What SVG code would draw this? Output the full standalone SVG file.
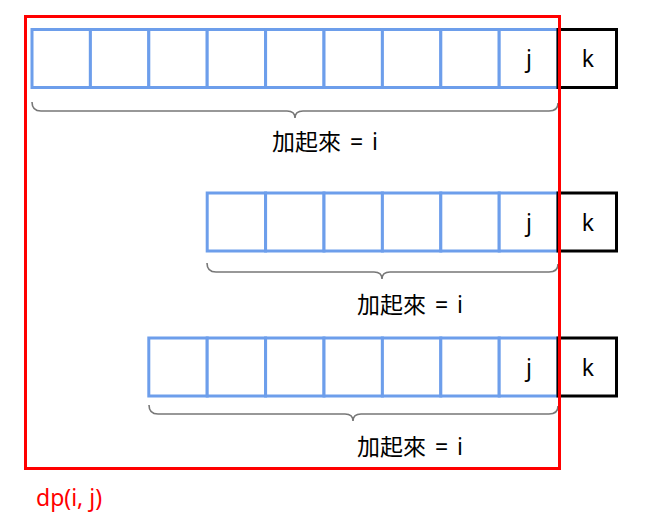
<svg xmlns="http://www.w3.org/2000/svg" width="649" height="526" viewBox="0 0 649 526">
<style>
.cell{fill:#fff;stroke:#6d9eeb;stroke-width:3}
.k{fill:#fff;stroke:#000;stroke-width:3}
.brace{fill:none;stroke:#777;stroke-width:1.6}
.t{font-family:"Noto Sans","Noto Sans CJK TC",sans-serif;font-size:23px;fill:#000}
.lab{word-spacing:3px}
.c{text-anchor:middle}
.red{fill:#ff0000}
</style>
<rect width="649" height="526" fill="#fff"/>
<g id="row1">
<rect class="cell" x="32" y="29.5" width="58.4" height="58"/>
<rect class="cell" x="90.4" y="29.5" width="58.4" height="58"/>
<rect class="cell" x="148.8" y="29.5" width="58.4" height="58"/>
<rect class="cell" x="207.2" y="29.5" width="58.4" height="58"/>
<rect class="cell" x="265.6" y="29.5" width="58.4" height="58"/>
<rect class="cell" x="324" y="29.5" width="58.4" height="58"/>
<rect class="cell" x="382.4" y="29.5" width="58.4" height="58"/>
<rect class="cell" x="440.8" y="29.5" width="58.4" height="58"/>
<rect class="cell" x="499.2" y="29.5" width="58.8" height="58"/>
<text class="t c" x="529" y="67">j</text>
</g>
<g id="k1"><rect class="k" x="558" y="29.5" width="58.5" height="58"/><text class="t c" x="588" y="67">k</text></g>
<g id="row2">
<rect class="cell" x="207.2" y="193" width="58.4" height="58"/>
<rect class="cell" x="265.6" y="193" width="58.4" height="58"/>
<rect class="cell" x="324" y="193" width="58.4" height="58"/>
<rect class="cell" x="382.4" y="193" width="58.4" height="58"/>
<rect class="cell" x="440.8" y="193" width="58.4" height="58"/>
<rect class="cell" x="499.2" y="193" width="58.8" height="58"/>
<text class="t c" x="529" y="231">j</text>
</g>
<g id="k2"><rect class="k" x="558" y="193" width="58.5" height="58"/><text class="t c" x="588" y="231">k</text></g>
<g id="row3">
<rect class="cell" x="148.8" y="338" width="58.4" height="58"/>
<rect class="cell" x="207.2" y="338" width="58.4" height="58"/>
<rect class="cell" x="265.6" y="338" width="58.4" height="58"/>
<rect class="cell" x="324" y="338" width="58.4" height="58"/>
<rect class="cell" x="382.4" y="338" width="58.4" height="58"/>
<rect class="cell" x="440.8" y="338" width="58.4" height="58"/>
<rect class="cell" x="499.2" y="338" width="58.8" height="58"/>
<text class="t c" x="529" y="376">j</text>
</g>
<g id="k3"><rect class="k" x="558" y="338" width="58.5" height="58"/><text class="t c" x="588" y="376">k</text></g>
<g id="braces">
<path class="brace" d="M32 102 Q32 111 41 111 L287 111 Q295 111 295 118 Q295 111 303 111 L549 111 Q558 111 558 103"/>
<path class="brace" d="M207 263 Q207 272 216 272 L374 272 Q382 272 382 279 Q382 272 390 272 L549 272 Q558 272 558 264"/>
<path class="brace" d="M149 405 Q149 414 158 414 L345 414 Q353 414 353 421 Q353 414 361 414 L549 414 Q558 414 558 406"/>
</g>
<g id="labels">
<text class="t lab" x="272" y="150">加起來 = i</text>
<text class="t lab" x="357" y="313">加起來 = i</text>
<text class="t lab" x="357" y="455">加起來 = i</text>
</g>
<g id="dp">
<rect x="25.5" y="16.5" width="534" height="452" fill="none" stroke="#ff0000" stroke-width="3"/>
<text class="t red" x="36" y="506">dp(i, j)</text>
</g>
</svg>
